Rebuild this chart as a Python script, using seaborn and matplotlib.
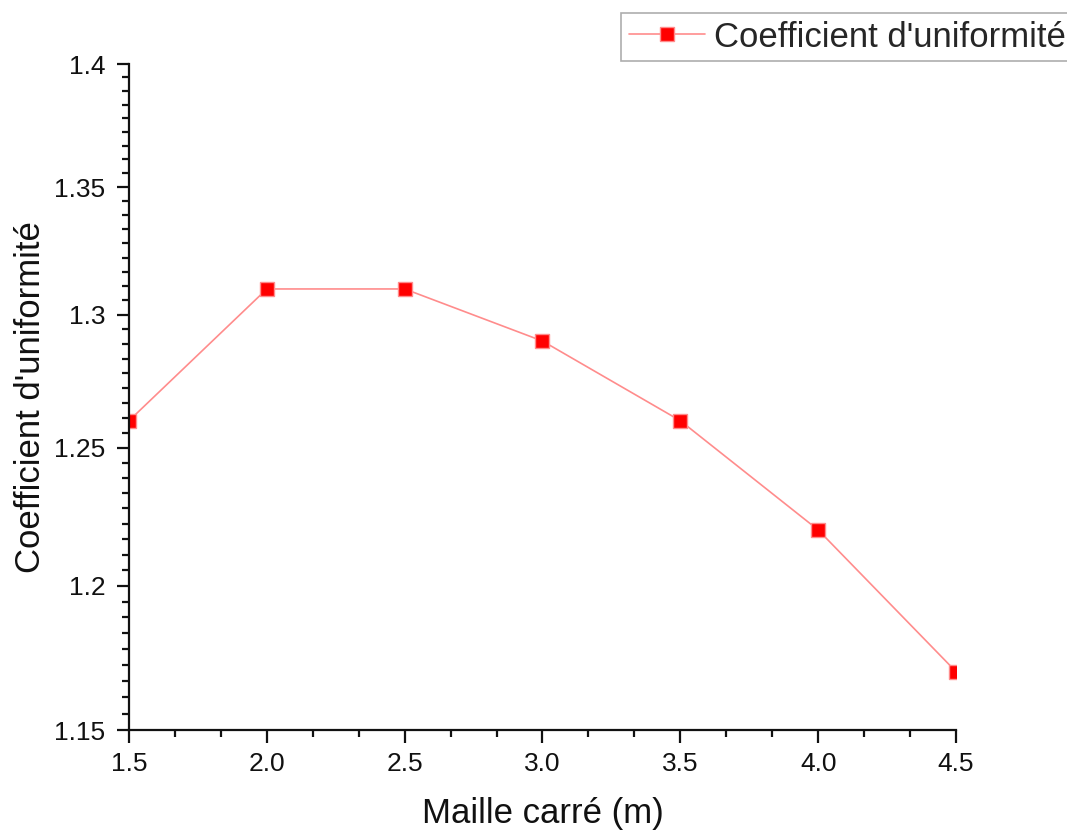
import matplotlib
matplotlib.use("Agg")
import matplotlib.pyplot as plt
import seaborn as sns
import numpy as np
import pandas as pd
from matplotlib.ticker import FixedLocator, FixedFormatter, NullFormatter

x_vals = [1.5, 2.0, 2.5, 3.0, 3.5, 4.0, 4.5]
y_vals = [1.26, 1.31, 1.31, 1.29, 1.26, 1.22, 1.17]
series_name = "Coefficient d'uniformité"
x_label = "Maille carré (m)"
y_label = "Coefficient d'uniformité"
y_ticks = [1.15, 1.2, 1.25, 1.3, 1.35, 1.4]
y_tick_labels = ["1.15", "1.2", "1.25", "1.3", "1.35", "1.4"]
x_ticks = [1.5, 2.0, 2.5, 3.0, 3.5, 4.0, 4.5]
x_tick_labels = ["1.5", "2.0", "2.5", "3.0", "3.5", "4.0", "4.5"]

df = pd.DataFrame({"x": x_vals, "y": y_vals, "s": series_name})

sns.set_style("ticks")
plt.rcParams["font.family"] = ["Liberation Sans", "DejaVu Sans"]

fig = plt.figure(figsize=(10.67, 8.31), dpi=100)
ax = fig.add_axes([129 / 1067, 1 - 730 / 831, (956 - 129) / 1067, (730 - 64) / 831])

sns.lineplot(data=df, x="x", y="y", hue="s", palette=["#ff8c8c"], ax=ax,
             marker="s", markersize=10.5, markerfacecolor="#ff0000",
             markeredgecolor="#ff8c8c", markeredgewidth=1, linewidth=1.2,
             legend=True)

ax.set_yscale("log")
ax.set_xlim(1.5, 4.5)
ax.set_ylim(1.15, 1.4)

ax.xaxis.set_major_locator(FixedLocator(x_ticks))
ax.xaxis.set_major_formatter(FixedFormatter(x_tick_labels))
x_minor = []
for a, b in zip(x_ticks[:-1], x_ticks[1:]):
    for k in range(1, 3):
        x_minor.append(a + (b - a) * k / 3)
ax.xaxis.set_minor_locator(FixedLocator(x_minor))

ax.yaxis.set_major_locator(FixedLocator(y_ticks))
ax.yaxis.set_major_formatter(FixedFormatter(y_tick_labels))
y_minor = []
for a, b in zip(y_ticks[:-1], y_ticks[1:]):
    for k in range(1, 9):
        y_minor.append(a + (b - a) * k / 9)
ax.yaxis.set_minor_locator(FixedLocator(y_minor))
ax.yaxis.set_minor_formatter(NullFormatter())

for side in ["top", "right"]:
    ax.spines[side].set_visible(False)
for side in ["left", "bottom"]:
    ax.spines[side].set_linewidth(1.6)
    ax.spines[side].set_color("#111111")

ax.tick_params(axis="both", which="major", direction="out", length=9, width=1.6,
               labelsize=19, colors="#111111", labelcolor="#111111")
ax.tick_params(axis="x", which="major", pad=7)
ax.tick_params(axis="y", which="major", pad=8)
ax.tick_params(axis="both", which="minor", direction="out", length=5, width=1.6,
               colors="#111111")

ax.set_xlabel(x_label, fontsize=25, labelpad=15, color="#111111")
ax.set_ylabel(y_label, fontsize=25, labelpad=5, color="#111111")

leg = ax.legend(loc="upper left", bbox_to_anchor=(621 / 1067, 1 - 13 / 831),
                bbox_transform=fig.transFigure, fontsize=25, frameon=True,
                fancybox=False, borderpad=0.22, handlelength=2.2,
                handletextpad=0.26, borderaxespad=0)
leg.get_frame().set_edgecolor("#999999")
leg.get_frame().set_linewidth(1.2)
for h in leg.legend_handles:
    h.set_marker("s")
    h.set_markersize(10.5)
    h.set_markerfacecolor("#ff0000")
    h.set_markeredgecolor("#ff8c8c")

fig.savefig("out.png", dpi=100)
